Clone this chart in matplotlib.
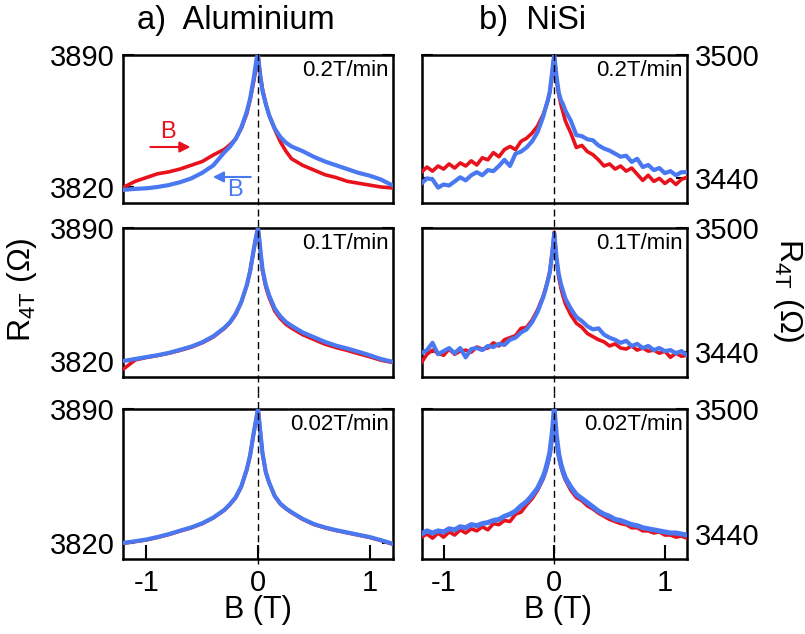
import matplotlib
matplotlib.use("Agg")
import matplotlib.pyplot as plt

plt.rcParams['font.family'] = ['Liberation Sans', 'DejaVu Sans']
plt.rcParams['mathtext.fontset'] = 'custom'
plt.rcParams['mathtext.rm'] = 'Liberation Sans'

RED = '#e8121c'
BLUE = '#4a78f0'

# ---------------- data ----------------
al_x = [-1.2, -1.1, -1.0, -0.9, -0.8, -0.7, -0.6, -0.5, -0.4, -0.3, -0.25, -0.2, -0.15, -0.1,
        -0.07, -0.04, -0.02, -0.01, 0.0, 0.01, 0.02, 0.04, 0.07, 0.1, 0.15, 0.2, 0.25, 0.3,
        0.4, 0.5, 0.6, 0.7, 0.8, 0.9, 1.0, 1.1, 1.2]

al_02_red = [3820, 3823, 3825, 3827, 3828, 3829.5, 3831.5, 3833.5, 3837, 3840, 3842.5, 3845.5,
             3851, 3859, 3866.5, 3875.5, 3882, 3886, 3890, 3885, 3879.5, 3872, 3864, 3858,
             3850.5, 3844, 3839, 3835, 3831.5, 3829, 3826.5, 3825, 3823, 3822, 3821, 3820, 3819.5]
al_02_blue = [3818.5, 3819, 3819.3, 3820, 3821, 3822.5, 3824.5, 3827.5, 3831.5, 3838.5, 3841.5,
              3845.5, 3851.5, 3860, 3867, 3877, 3885, 3889, 3890, 3884, 3879, 3871, 3864, 3858,
              3851, 3846.5, 3843.5, 3841.5, 3839, 3836, 3833.5, 3831.5, 3829.5, 3827.5, 3826,
              3824, 3821]

al_01_red = [3816, 3820.5, 3821.8, 3822.8, 3824, 3825.5, 3827.2, 3829.5, 3832.6, 3837.2, 3840.2,
             3844.5, 3850.8, 3859.8, 3867.3, 3877.8, 3884.3, 3887.3, 3889.8, 3884.5, 3878.3,
             3867.5, 3858.8, 3853.3, 3846.3, 3842.3, 3839.3, 3837.3, 3833.8, 3831.3, 3828.8,
             3827, 3825.5, 3823.8, 3822.2, 3820.4, 3819.2]
al_01_blue = [3820, 3821, 3822, 3823, 3824.2, 3825.8, 3827.5, 3829.8, 3833, 3837.5, 3840.5,
              3844.8, 3851, 3860, 3867.5, 3878, 3884.5, 3887.5, 3890, 3885, 3879, 3868.5, 3860,
              3854.5, 3847.5, 3843.5, 3840.5, 3838.5, 3835, 3832.5, 3830, 3828, 3826.5, 3824.8,
              3823, 3821, 3819.6]

al_002_red = [3819.8, 3820.6, 3821.5, 3822.8, 3824.3, 3826.1, 3827.8, 3830, 3833, 3837.1, 3840.1,
              3843.6, 3849.3, 3858.3, 3865.8, 3876.8, 3883.3, 3886.8, 3889.8, 3884.3, 3878.3,
              3866.8, 3856.8, 3851.3, 3844.3, 3840.3, 3837.8, 3835.8, 3832.3, 3829.6, 3827.8,
              3826.4, 3825.2, 3824, 3822.8, 3821.2, 3819.4]
al_002_blue = [3820, 3820.8, 3821.7, 3823, 3824.5, 3826.3, 3828, 3830.2, 3833.2, 3837.3, 3840.3,
               3843.8, 3849.5, 3858.5, 3866, 3877, 3883.5, 3887, 3890, 3884.5, 3878.5, 3867,
               3857, 3851.5, 3844.5, 3840.5, 3838, 3836, 3832.5, 3829.8, 3828, 3826.6, 3825.4,
               3824.2, 3823, 3821.4, 3819.6]

ni_x = [-1.2, -1.15, -1.1, -1.05, -1.0, -0.95, -0.9, -0.85, -0.8, -0.75, -0.7, -0.65, -0.6,
        -0.55, -0.5, -0.45, -0.4, -0.35, -0.3, -0.25, -0.2, -0.15, -0.1, -0.08, -0.06, -0.04,
        -0.02, -0.01, 0.0, 0.01, 0.02, 0.04, 0.06, 0.08, 0.1, 0.15, 0.2, 0.25, 0.3, 0.35, 0.4,
        0.45, 0.5, 0.55, 0.6, 0.65, 0.7, 0.75, 0.8, 0.85, 0.9, 0.95, 1.0, 1.05, 1.1, 1.15, 1.2]

ni_02_red = [3443, 3445.5, 3443.5, 3446, 3444.5, 3447, 3445, 3447.5, 3446, 3448.5, 3446.5, 3450,
             3449, 3452.5, 3450.5, 3454, 3455.5, 3454, 3458, 3459.5, 3462, 3465.5, 3471, 3474,
             3477.5, 3482, 3490, 3495, 3500, 3494, 3488, 3481, 3476, 3472, 3468, 3462, 3455,
             3456, 3453, 3451.5, 3449, 3446, 3447, 3444.5, 3446, 3443.5, 3445, 3442, 3439,
             3441.5, 3438.5, 3440, 3437.5, 3439.5, 3437, 3439.5, 3440.5]
ni_02_blue = [3437.5, 3440, 3439.5, 3435.5, 3437, 3436.5, 3438.5, 3440.5, 3439, 3441.5, 3443,
              3441.5, 3444, 3443.5, 3446, 3449, 3446, 3452, 3453, 3455, 3458, 3462.5, 3470,
              3474, 3477.5, 3482, 3491, 3496, 3500, 3495, 3490, 3482, 3478, 3476, 3473, 3468,
              3461, 3460.5, 3459, 3458.5, 3456, 3454.5, 3453.5, 3452, 3450.5, 3451, 3448,
              3449.5, 3445.5, 3446.5, 3444, 3445, 3442.5, 3443.5, 3441.5, 3443, 3443]

ni_01_red = [3435, 3439, 3441, 3439.5, 3438.5, 3441.5, 3439, 3440.5, 3441, 3440, 3442.5, 3441.5,
             3442, 3444.5, 3443, 3446, 3447, 3448, 3451.5, 3452, 3455.5, 3460.5, 3467, 3470.5,
             3474.5, 3479, 3487.5, 3492.5, 3498, 3491, 3485, 3476.5, 3471, 3467, 3463.5, 3458,
             3454, 3452, 3449, 3447.5, 3446, 3445, 3443, 3444, 3442, 3441.5, 3443, 3441, 3442,
             3440.5, 3441, 3439.5, 3440.5, 3437.5, 3439.5, 3438, 3438.5]
ni_01_blue = [3439.5, 3441, 3444.5, 3439, 3440.5, 3442, 3439.5, 3442, 3437.5, 3441.5, 3442,
              3441, 3443, 3442.5, 3444, 3443.5, 3446, 3447, 3449.5, 3451, 3454.5, 3459.5,
              3466.5, 3470, 3474, 3478.5, 3487, 3492, 3497.5, 3492, 3486, 3478, 3473, 3469.5,
              3466, 3461, 3457, 3455, 3452.5, 3451, 3451.5, 3448.5, 3447, 3446, 3444.5, 3445.5,
              3443, 3444, 3442, 3443, 3441, 3442, 3440.5, 3441, 3439.5, 3440.5, 3438.5]

ni_002_red = [3438.5, 3440, 3438, 3440.5, 3438.5, 3441, 3439.5, 3442, 3440.5, 3442.5, 3441.5,
              3443.5, 3442, 3445, 3444.5, 3446.5, 3446, 3449.5, 3450.5, 3454, 3457, 3461,
              3466.5, 3469.5, 3473.5, 3478, 3486.5, 3492, 3499, 3492, 3486, 3477.5, 3472.5,
              3469, 3466, 3461, 3457.5, 3456, 3453.5, 3452, 3450, 3448.5, 3447, 3446, 3445,
              3444.5, 3443, 3443, 3441.5, 3441.5, 3440.5, 3441, 3439.5, 3439.5, 3438.5, 3439,
              3438]
ni_002_blue = [3440, 3441.5, 3440.5, 3441.5, 3441, 3442.5, 3442, 3443.5, 3443, 3444.5, 3444,
               3445, 3445.5, 3446.5, 3447, 3448.5, 3449.5, 3451, 3453.5, 3455.5, 3458.5, 3462,
               3467.5, 3470.5, 3474.5, 3479, 3487.5, 3493, 3500, 3493, 3487, 3478.5, 3473.5,
               3470, 3467, 3462.5, 3459, 3457, 3455, 3453, 3451, 3449.5, 3448.5, 3447, 3446.5,
               3445.5, 3444.5, 3444, 3443, 3442.5, 3442, 3441.5, 3441, 3440.5, 3440.5, 3440,
               3439.5]

rates = ['0.2T/min', '0.1T/min', '0.02T/min']
al_red = [al_02_red, al_01_red, al_002_red]
al_blue = [al_02_blue, al_01_blue, al_002_blue]
ni_red = [ni_02_red, ni_01_red, ni_002_red]
ni_blue = [ni_02_blue, ni_01_blue, ni_002_blue]

al_yticks = [3820, 3890]
ni_yticks = [3440, 3500]
x_ticks = [-1, 0, 1]

# ---------------- figure ----------------
W, H = 805, 634
fig = plt.figure(figsize=(W / 100, H / 100), dpi=100)

rows_px = [(55, 203), (228, 377), (409, 559)]
cols_px = [(123, 393), (422, 687)]

def px_axes(x0, x1, y0, y1):
    return fig.add_axes([x0 / W, 1 - y1 / H, (x1 - x0) / W, (y1 - y0) / H])

dash_ext = [(-0.085, 1.035), (-0.108, 1.085), (-0.03, 1.108)]

for r in range(3):
    for c in range(2):
        ax = px_axes(cols_px[c][0], cols_px[c][1], rows_px[r][0], rows_px[r][1])
        if c == 0:
            xs, reds, blues = al_x, al_red[r], al_blue[r]
            ax.set_xlim(-1.21, 1.21)
            ax.set_ylim(3811.5, 3890)
            ax.set_yticks(al_yticks)
        else:
            xs, reds, blues = ni_x, ni_red[r], ni_blue[r]
            ax.set_xlim(-1.195, 1.2)
            ax.set_ylim(3428, 3500)
            ax.set_yticks(ni_yticks)
        lwb = 3.0 if not (c == 1 and r == 2) else 3.6
        ax.plot(xs, reds, color=RED, lw=2.6, solid_joinstyle='round', zorder=3)
        ax.plot(xs, blues, color=BLUE, lw=lwb, solid_joinstyle='round', zorder=4)
        lo, hi = dash_ext[r]
        ax.axvline(0, ymin=lo, ymax=hi, color='black', lw=1.0, dashes=(5, 3),
                   clip_on=False, zorder=5)
        for s in ax.spines.values():
            s.set_linewidth(1.8)
        ax.tick_params(axis='y', direction='in', length=8, width=1.5, left=True, right=True,
                       labelsize=21, pad=6,
                       labelleft=(c == 0), labelright=(c == 1))
        ax.set_xticks(x_ticks)
        if r == 2:
            ax.tick_params(axis='x', direction='in', length=10, width=1.5, labelsize=21, pad=7)
            ax.set_xticklabels(['-1', '0', '1'])
        else:
            ax.tick_params(axis='x', length=0, labelbottom=False)
        ax.text(0.985, 0.965, rates[r], transform=ax.transAxes, ha='right', va='top',
                fontsize=16)
        if r == 0 and c == 0:
            ax.annotate('', xy=(-0.58, 3841.2), xytext=(-0.99, 3841.2),
                        arrowprops=dict(arrowstyle='-|>', color=RED, lw=1.5,
                                        mutation_scale=16))
            ax.text(-0.81, 3849, 'B', color=RED, fontsize=17, ha='center', va='center')
            ax.annotate('', xy=(-0.43, 3825.3), xytext=(-0.04, 3825.3),
                        arrowprops=dict(arrowstyle='-|>', color=BLUE, lw=1.5,
                                        mutation_scale=16))
            ax.text(-0.205, 3818.3, 'B', color=BLUE, fontsize=17, ha='center', va='center')

fig.text(236 / W, 1 - 21 / H, 'a)  Aluminium', ha='center', va='center', fontsize=23.5)
fig.text(533 / W, 1 - 21 / H, 'b)  NiSi', ha='center', va='center', fontsize=23.5)
fig.text(258 / W, 1 - 610 / H, 'B (T)', ha='center', va='center', fontsize=22)
fig.text(558 / W, 1 - 610 / H, 'B (T)', ha='center', va='center', fontsize=22)
fig.text(22 / W, 1 - 290 / H, r'R$_\mathregular{4T}$ (Ω)', ha='center', va='center',
         rotation=90, fontsize=23)
fig.text(788 / W, 1 - 290 / H, r'R$_\mathregular{4T}$ (Ω)', ha='center', va='center',
         rotation=-90, fontsize=23)

fig.savefig('out.png', dpi=100)
